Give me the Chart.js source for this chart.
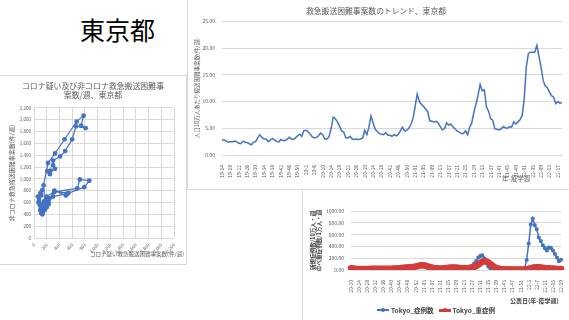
<!DOCTYPE html>
<html>
<head>
<meta charset="utf-8">
<script src="https://cdn.jsdelivr.net/npm/chart.js@4.4.1/dist/chart.umd.min.js"></script>
<style>
    body { margin: 0; width: 569px; height: 320px; overflow: hidden; position: relative; background: #fff;
           font-family: "Noto Sans CJK JP", sans-serif; }
    .panel { position: absolute; border: 1px solid #d9d9d9; box-sizing: border-box; }
    .box { position: absolute; }
    .txt { position: absolute; white-space: nowrap; line-height: 1; }
</style>
</head>
<body>
<div class="txt" style="left:80px;top:17px;font-size:25px;color:#000">東京都</div>

<div class="panel" style="left:-1px;top:75px;width:188px;height:190px"></div>
<div class="panel" style="left:187px;top:-1px;width:383px;height:191px"></div>
<div class="panel" style="left:302px;top:189px;width:268px;height:132px"></div>

<div class="box" style="left:0;top:76px;width:186px;height:188px"><canvas id="scatterChart"></canvas></div>
<div class="box" style="left:190px;top:0;width:379px;height:189px"><canvas id="trendChart"></canvas></div>
<div class="box" style="left:303px;top:190px;width:266px;height:130px"><canvas id="caseChart"></canvas></div>

<div class="txt" style="right:385px;top:252px;font-size:5.5px;color:#595959">コロナ疑い救急搬送困難事案数(件/週)</div>
<div class="txt" style="left:502px;top:175px;font-size:6.5px;color:#595959">年-疫学週</div>
<div class="txt" style="left:510px;top:298px;font-size:6px;font-weight:bold;color:#404040">公表日(年-疫学週)</div>
<div id="legend-cases" style="position:absolute;left:303px;width:266px;top:306px;display:flex;justify-content:center;gap:5px"></div>

<script>
const BLUE = '#4472C4';
const RED  = '#D43C3C';
const GRID = '#d9d9d9';

// scatter: weekly counts, in time order
const covidX    = [60, 100, 130, 110, 80, 70, 90, 110, 100, 120, 130, 115, 140, 160, 130, 150, 190, 230, 200, 170,
                   150, 160, 190, 220, 240, 320, 500, 540, 320, 200, 160, 140, 170, 150, 180, 200, 230, 320, 680, 720,
                   870, 790, 520, 300, 200, 150, 130, 120, 140, 150, 170, 150, 220, 330, 480, 670, 780, 740, 810, 660,
                   600, 490, 410, 300, 300, 330, 260, 210, 250];
const nonCovidY = [700, 760, 810, 720, 640, 600, 560, 520, 470, 440, 400, 420, 470, 520, 560, 600, 540, 570, 520, 480,
                   500, 560, 620, 680, 660, 800, 720, 760, 790, 700, 620, 560, 540, 480, 520, 560, 600, 780, 840, 990,
                   970, 860, 750, 700, 600, 540, 500, 450, 430, 520, 600, 890, 1270, 1430, 1670, 1970, 2070, 1900, 1860, 1890,
                   1670, 1470, 1380, 1310, 1230, 1170, 1140, 1130, 1080];

// trend: per 100k per week, 19-14 .. 22-19
const trendSpans  = [['19', 14, 52, false], ['20', 1, 53, false], ['21', 1, 52, true], ['22', 1, 19, true]];
const trendValues = [
    2.8, 2.8, 2.6, 2.4, 2.5, 2.5, 2.6, 2.5, 2.2, 2.1,
    2.6, 2.4, 2.3, 2.1, 1.9, 2.4, 2.5, 3.2, 3.8, 3.3,
    3.0, 3.0, 2.5, 2.8, 3.1, 2.8, 2.6, 2.4, 2.9, 2.7,
    2.7, 2.9, 3.3, 3.0, 2.9, 3.2, 3.6, 3.9, 3.5, 4.6,
    4.6, 4.4, 3.9, 3.4, 3.2, 3.3, 3.6, 4.1, 3.8, 3.0,
    3.0, 3.4, 5.0, 7.1, 6.8, 6.2, 5.4, 4.5, 4.3, 3.2,
    3.2, 3.5, 3.0, 2.9, 3.0, 2.9, 3.0, 3.2, 4.6, 3.8,
    5.2, 7.3, 6.0, 4.8, 4.4, 4.0, 3.9, 3.8, 4.2, 3.7,
    3.7, 3.5, 3.8, 3.6, 3.9, 4.5, 5.2, 4.5, 4.6, 5.0,
    5.7, 6.8, 9.0, 11.4, 10.0, 9.5, 9.1, 8.6, 8.1, 6.4,
    6.3, 6.2, 6.3, 6.0, 5.3, 4.7, 4.9, 6.0, 5.6, 5.8,
    5.3, 4.9, 4.5, 4.3, 4.0, 4.0, 4.5, 3.8, 5.2, 6.0,
    8.0, 9.5, 11.2, 13.2, 12.0, 12.2, 9.0, 8.2, 6.8, 6.5,
    4.9, 4.8, 4.7, 4.9, 5.3, 5.1, 5.0, 5.3, 5.2, 6.2,
    5.8, 6.2, 6.6, 7.4, 10.5, 16.5, 19.0, 19.2, 19.2, 19.2,
    20.5, 18.5, 16.5, 14.0, 12.9, 12.6, 11.8, 11.1, 10.8, 9.6,
    10.0, 9.7, 9.8
];

// cases: 20-20 .. 22-19
const caseSpans  = [['20', 20, 53, false], ['21', 1, 52, true], ['22', 1, 19, false]];
const newCases   = [
    2, 1, 1, 2, 2, 3, 5, 10, 15, 17,
    20, 21, 18, 14, 12, 10, 9, 10, 10, 11,
    10, 11, 12, 12, 14, 18, 23, 28, 30, 32,
    35, 45, 55, 75, 92, 85, 70, 50, 35, 25,
    18, 16, 15, 15, 17, 20, 25, 28, 33, 40,
    45, 42, 38, 33, 27, 25, 30, 37, 45, 55,
    75, 110, 150, 210, 235, 250, 200, 120, 60, 28,
    13, 6, 3, 2, 1, 1, 1, 1, 1, 1,
    1, 2, 2, 2, 3, 5, 30, 170, 450, 770,
    870, 760, 690, 550, 490, 420, 370, 330, 380, 375,
    330, 270, 210, 150, 175
];
const severeCases = [
    30, 25, 20, 18, 16, 15, 14, 14, 15, 17,
    20, 22, 22, 21, 20, 20, 20, 19, 20, 21,
    22, 23, 24, 26, 28, 32, 36, 40, 42, 45,
    48, 52, 58, 66, 75, 80, 78, 70, 60, 50,
    42, 35, 30, 27, 26, 26, 28, 32, 36, 40,
    42, 42, 40, 37, 33, 30, 28, 30, 32, 36,
    42, 52, 68, 90, 115, 140, 152, 145, 125, 100,
    75, 52, 35, 24, 17, 13, 11, 10, 9, 8,
    8, 7, 7, 7, 7, 7, 8, 12, 20, 30,
    38, 44, 46, 45, 42, 38, 34, 30, 28, 26,
    23, 20, 17, 15, 14
];

function weekLabels(spans) {
    const out = [];
    spans.forEach(([yy, from, to, pad]) => {
        for (let w = from; w <= to; w++) out.push(yy + '-' + (pad && w < 10 ? '0' + w : w));
    });
    return out;
}

function buildLegend(containerId, items) {
    const el = document.getElementById(containerId);
    if (!el) return;
    el.innerHTML = items.map(i =>
        `<span style="display:flex;align-items:center;gap:2px;font-size:6.5px;font-weight:bold;color:#404040;line-height:8px">
            <span style="position:relative;width:12px;height:${i.width}px;background:${i.color}">
                <span style="position:absolute;left:4px;top:${i.width / 2 - 2}px;width:4px;height:4px;border-radius:50%;background:${i.color}"></span>
            </span>
            ${i.label}
         </span>`
    ).join('');
}

Chart.defaults.font.family = '"Noto Sans CJK JP", sans-serif';
Chart.defaults.color = '#595959';
Chart.defaults.animation = false;

const BASE = {
    responsive: true,
    maintainAspectRatio: false,
    animation: false,
    events: [],
};

function everyFourth(v, i) { return i % 4 === 0 ? this.getLabelForValue(v) : null; }

new Chart(document.getElementById('scatterChart'), {
    type: 'scatter',
    data: {
        datasets: [{
            data: covidX.map((x, i) => ({ x, y: nonCovidY[i] })),
            showLine: true,
            borderColor: BLUE,
            backgroundColor: BLUE,
            borderWidth: 1.2,
            pointRadius: 1.8,
        }],
    },
    options: {
        ...BASE,
        layout: { padding: { left: 0, right: 0, top: 5, bottom: 0 } },
        plugins: {
            legend: { display: false },
            tooltip: { enabled: false },
            title: { display: true, text: ['コロナ疑い及び非コロナ救急搬送困難事', '案数/週、東京都'],
                     font: { size: 7.9, weight: 'normal' }, padding: { top: 0, bottom: 8 } },
        },
        scales: {
            x: { min: 0, max: 2200, ticks: { stepSize: 200, font: { size: 4.5 }, padding: 4 },
                 grid: { color: GRID, drawTicks: false }, border: { display: false },
                 afterFit: s => { s.height = 26; s.paddingRight = 12; } },
            y: { min: 0, max: 2200, ticks: { stepSize: 200, font: { size: 4.5 }, padding: 3 },
                 grid: { color: GRID, drawTicks: false }, border: { display: false },
                 title: { display: true, text: '非コロナ救急搬送困難事案数(件/週)', font: { size: 6 }, padding: { top: 8 } },
                 afterFit: s => { s.width = 34; } },
        },
    },
});

new Chart(document.getElementById('trendChart'), {
    type: 'line',
    data: {
        labels: weekLabels(trendSpans),
        datasets: [{ data: trendValues, borderColor: BLUE, borderWidth: 1.5, pointRadius: 0, tension: 0 }],
    },
    options: {
        ...BASE,
        layout: { padding: { left: 0, right: 7, top: 6, bottom: 0 } },
        plugins: {
            legend: { display: false },
            tooltip: { enabled: false },
            title: { display: true, text: '救急搬送困難事案数のトレンド、東京都',
                     font: { size: 7.8, weight: 'normal' }, padding: { top: 0, bottom: 6 } },
        },
        scales: {
            x: { grid: { display: false }, border: { color: GRID },
                 ticks: { autoSkip: false, minRotation: 90, maxRotation: 90, font: { size: 5 }, padding: 2, callback: everyFourth },
                 afterFit: s => { s.height = 34; } },
            y: { min: 0, max: 25, ticks: { stepSize: 5, font: { size: 5 }, padding: 7, callback: v => v.toFixed(2) },
                 grid: { color: GRID, drawTicks: false }, border: { display: false },
                 title: { display: true, text: '人口10万人あたり搬送困難事案数(件/週)', font: { size: 5.5 }, padding: { top: 3.5 } },
                 afterFit: s => { s.width = 32; } },
        },
    },
});

const caseSeries = [
    { label: 'Tokyo_症例数', data: newCases,    color: BLUE, width: 1.5, radius: 1.3, order: 1 },
    { label: 'Tokyo_重症例', data: severeCases, color: RED,  width: 3,   radius: 1.8, order: 0 },
];

buildLegend('legend-cases', caseSeries);

new Chart(document.getElementById('caseChart'), {
    type: 'line',
    data: {
        labels: weekLabels(caseSpans),
        datasets: caseSeries.map(s => ({
            label: s.label, data: s.data, borderColor: s.color, backgroundColor: s.color,
            borderWidth: s.width, pointRadius: s.radius, tension: 0, order: s.order,
        })),
    },
    options: {
        ...BASE,
        layout: { padding: { left: 0, right: 7, top: 21, bottom: 0 } },
        plugins: {
            tooltip: { enabled: false },
            legend: { display: false },
        },
        scales: {
            x: { grid: { display: false }, border: { color: GRID },
                 ticks: { autoSkip: false, minRotation: 90, maxRotation: 90, font: { size: 5 }, padding: 2, callback: everyFourth },
                 afterFit: s => { s.height = 50; } },
            y: { min: 0, max: 1000, ticks: { stepSize: 200, font: { size: 5 }, padding: 7, callback: v => v.toFixed(2) },
                 grid: { color: GRID, drawTicks: false }, border: { display: false },
                 title: { display: true, text: ['新規症例数/10万人・週', 'のべ重症例数/1万人・週'], color: '#404040',
                          font: { size: 5.6, weight: 'bold', lineHeight: 1 }, padding: { top: 7 } },
                 afterFit: s => { s.width = 48; } },
        },
    },
});
</script>
</body>
</html>
